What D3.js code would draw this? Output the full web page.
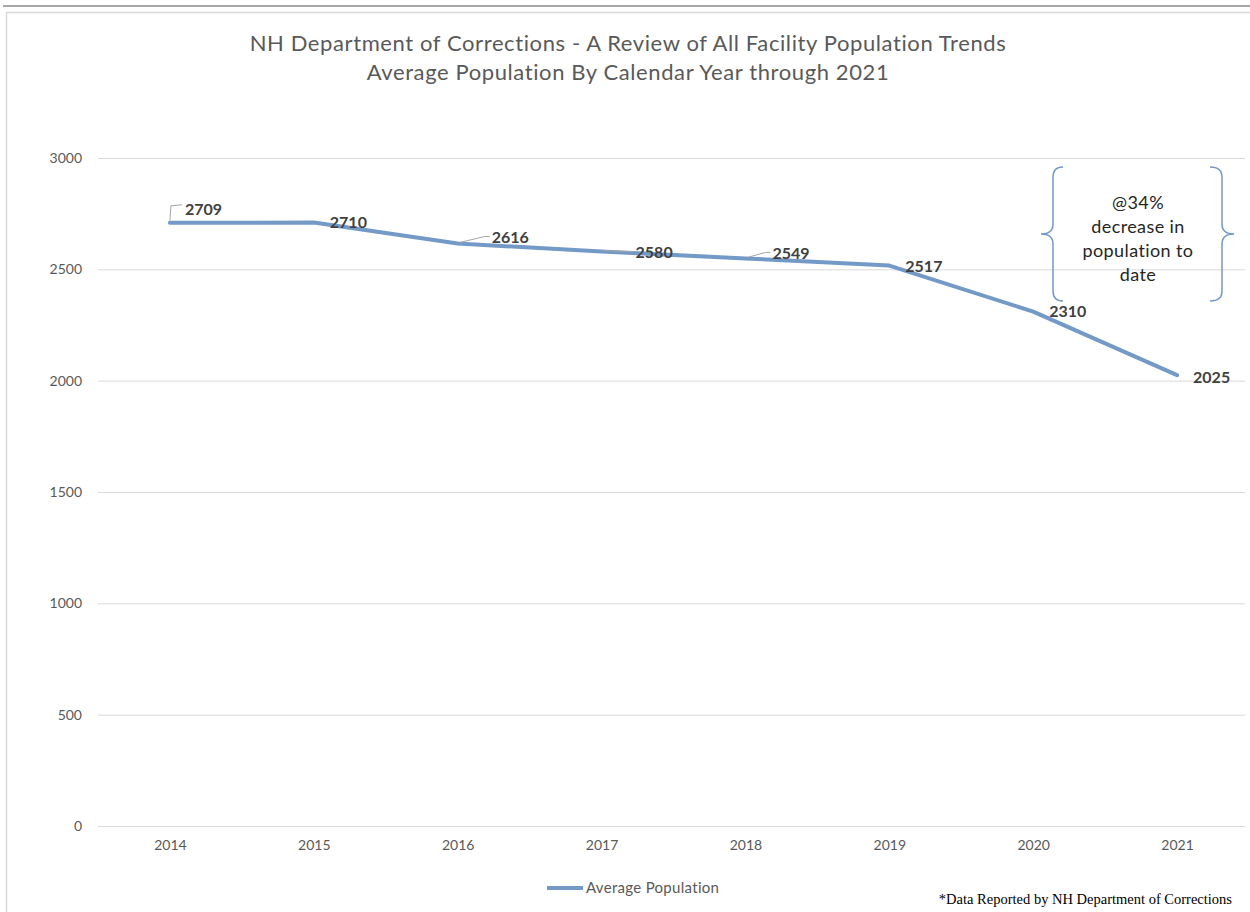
<!DOCTYPE html>
<html>
<head>
<meta charset="utf-8">
<script src="https://cdn.jsdelivr.net/npm/d3@7"></script>
<style>
  html, body { margin: 0; padding: 0; background: #ffffff; }
  svg { display: block; }
</style>
</head>
<body>
<svg id="chart" width="1250" height="912"></svg>
<script>
// ---------- data ----------
const years = ["2014", "2015", "2016", "2017", "2018", "2019", "2020", "2021"];
const avgPopulation = [2709, 2710, 2616, 2580, 2549, 2517, 2310, 2025];
const yTicks = [0, 500, 1000, 1500, 2000, 2500, 3000];
const seriesName = "Average Population";
const titleLines = [
  "NH Department of Corrections - A Review of All Facility Population Trends",
  "Average Population By Calendar Year through 2021"
];
const annotationLines = ["@34%", "decrease in", "population to", "date"];
const footnote = "*Data Reported by NH Department of Corrections";

// label placement (offsets from point, px) and whether a leader line is drawn
const labelOffsets = [
  { dx: 15, dy: -13, leader: true },
  { dx: 16, dy: 0, leader: false },
  { dx: 34, dy: -6, leader: true },
  { dx: 34, dy: 1, leader: true },
  { dx: 27, dy: -5, leader: true },
  { dx: 16, dy: 1, leader: false },
  { dx: 16, dy: 0, leader: false },
  { dx: 16, dy: 2, leader: false }
];

// ---------- layout ----------
const W = 1250, H = 912;
const plot = { left: 98, right: 1249, top: 158, bottom: 826 };
const lineColor = "#7399C6";
const textGray = "#595959";
const sans = "Lato, 'Open Sans', sans-serif";

const svg = d3.select("#chart");

// outer decorations
svg.append("line").attr("x1", 3).attr("x2", W).attr("y1", 6).attr("y2", 6)
  .attr("stroke", "#a6a6a6").attr("stroke-width", 2);
svg.append("path").attr("d", `M${W},12.5 H6.5 V${H}`)
  .attr("fill", "none").attr("stroke", "#d9d9d9").attr("stroke-width", 1.5);

// scales
const x = d3.scalePoint().domain(years).range([plot.left, plot.right]).padding(0.5);
const y = d3.scaleLinear().domain([0, 3000]).range([plot.bottom, plot.top]);

// gridlines
const yAxis = d3.axisLeft(y).tickValues(yTicks).tickFormat(d3.format("d"))
  .tickSize(-(1245 - plot.left)).tickPadding(16);
const gy = svg.append("g").attr("transform", `translate(${plot.left},0)`).call(yAxis);
gy.select(".domain").remove();
gy.selectAll(".tick line").attr("stroke", "#d9d9d9").attr("stroke-width", 1);
gy.selectAll(".tick text").attr("fill", textGray).style("font-family", sans).style("font-size", "14px");

// x axis labels
const xAxis = d3.axisBottom(x).tickSize(0).tickPadding(14);
const gx = svg.append("g").attr("transform", `translate(0,${plot.bottom})`).call(xAxis);
gx.select(".domain").remove();
gx.selectAll(".tick text").attr("fill", textGray).style("font-family", sans).style("font-size", "14px");

// line
const data = years.map((yr, i) => ({ year: yr, value: avgPopulation[i] }));
const line = d3.line().x(d => x(d.year)).y(d => y(d.value));
svg.append("path").datum(data).attr("d", line)
  .attr("fill", "none").attr("stroke", lineColor).attr("stroke-width", 4)
  .attr("stroke-linejoin", "round").attr("stroke-linecap", "round");

// data labels with leader lines
data.forEach((d, i) => {
  const px = x(d.year), py = y(d.value);
  const o = labelOffsets[i];
  const lx = px + o.dx, ly = py + o.dy;
  if (o.leader) {
    let path;
    if (i === 0) {
      path = `M${px},${py - 2} L${px + 1},${ly - 4} L${lx - 3},${ly - 5}`;
    } else {
      path = `M${px + 2},${py - 1} L${lx - 7},${ly - 1} L${lx - 2},${ly - 1}`;
    }
    svg.append("path").attr("d", path).attr("fill", "none")
      .attr("stroke", "#a6a6a6").attr("stroke-width", 1);
  }
  svg.append("text").attr("x", lx).attr("y", ly).attr("dy", "0.35em")
    .attr("fill", "#404040").style("font-family", sans).style("font-size", "16px")
    .style("font-weight", "bold").text(d.value);
});

// title
svg.append("g").selectAll("text").data(titleLines).join("text")
  .attr("x", 628).attr("y", (d, i) => 51 + i * 29)
  .attr("text-anchor", "middle").attr("fill", textGray)
  .style("font-family", sans).style("font-size", "22px").style("letter-spacing", "0.6px")
  .text(d => d);

// annotation braces
function brace(xOuter, xMid, xTip, yTop, yBot) {
  const yc = (yTop + yBot) / 2;
  const r = 10;
  return `M${xOuter},${yTop} Q${xMid},${yTop} ${xMid},${yTop + r} L${xMid},${yc - r} Q${xMid},${yc} ${xTip},${yc}` +
         ` Q${xMid},${yc} ${xMid},${yc + r} L${xMid},${yBot - r} Q${xMid},${yBot} ${xOuter},${yBot}`;
}
svg.append("path").attr("d", brace(1063, 1053, 1041, 167, 301))
  .attr("fill", "none").attr("stroke", lineColor).attr("stroke-width", 1.5);
svg.append("path").attr("d", brace(1210, 1222, 1234, 167, 301))
  .attr("fill", "none").attr("stroke", lineColor).attr("stroke-width", 1.5);
svg.append("g").selectAll("text").data(annotationLines).join("text")
  .attr("x", 1138).attr("y", (d, i) => 209 + i * 24)
  .attr("text-anchor", "middle").attr("fill", "#262626")
  .style("font-family", sans).style("font-size", "18px").style("letter-spacing", "0.4px")
  .text(d => d);

// legend
svg.append("line").attr("x1", 547).attr("x2", 583).attr("y1", 888).attr("y2", 888)
  .attr("stroke", lineColor).attr("stroke-width", 4);
svg.append("text").attr("x", 586).attr("y", 888).attr("dy", "0.35em")
  .attr("fill", textGray).style("font-family", sans).style("font-size", "15px")
  .style("letter-spacing", "0.3px").text(seriesName);

// footnote
svg.append("text").attr("x", 1232).attr("y", 904).attr("text-anchor", "end")
  .attr("fill", "#000").style("font-family", "'Liberation Serif', 'Times New Roman', serif")
  .style("font-size", "14.5px").text(footnote);
</script>
</body>
</html>
